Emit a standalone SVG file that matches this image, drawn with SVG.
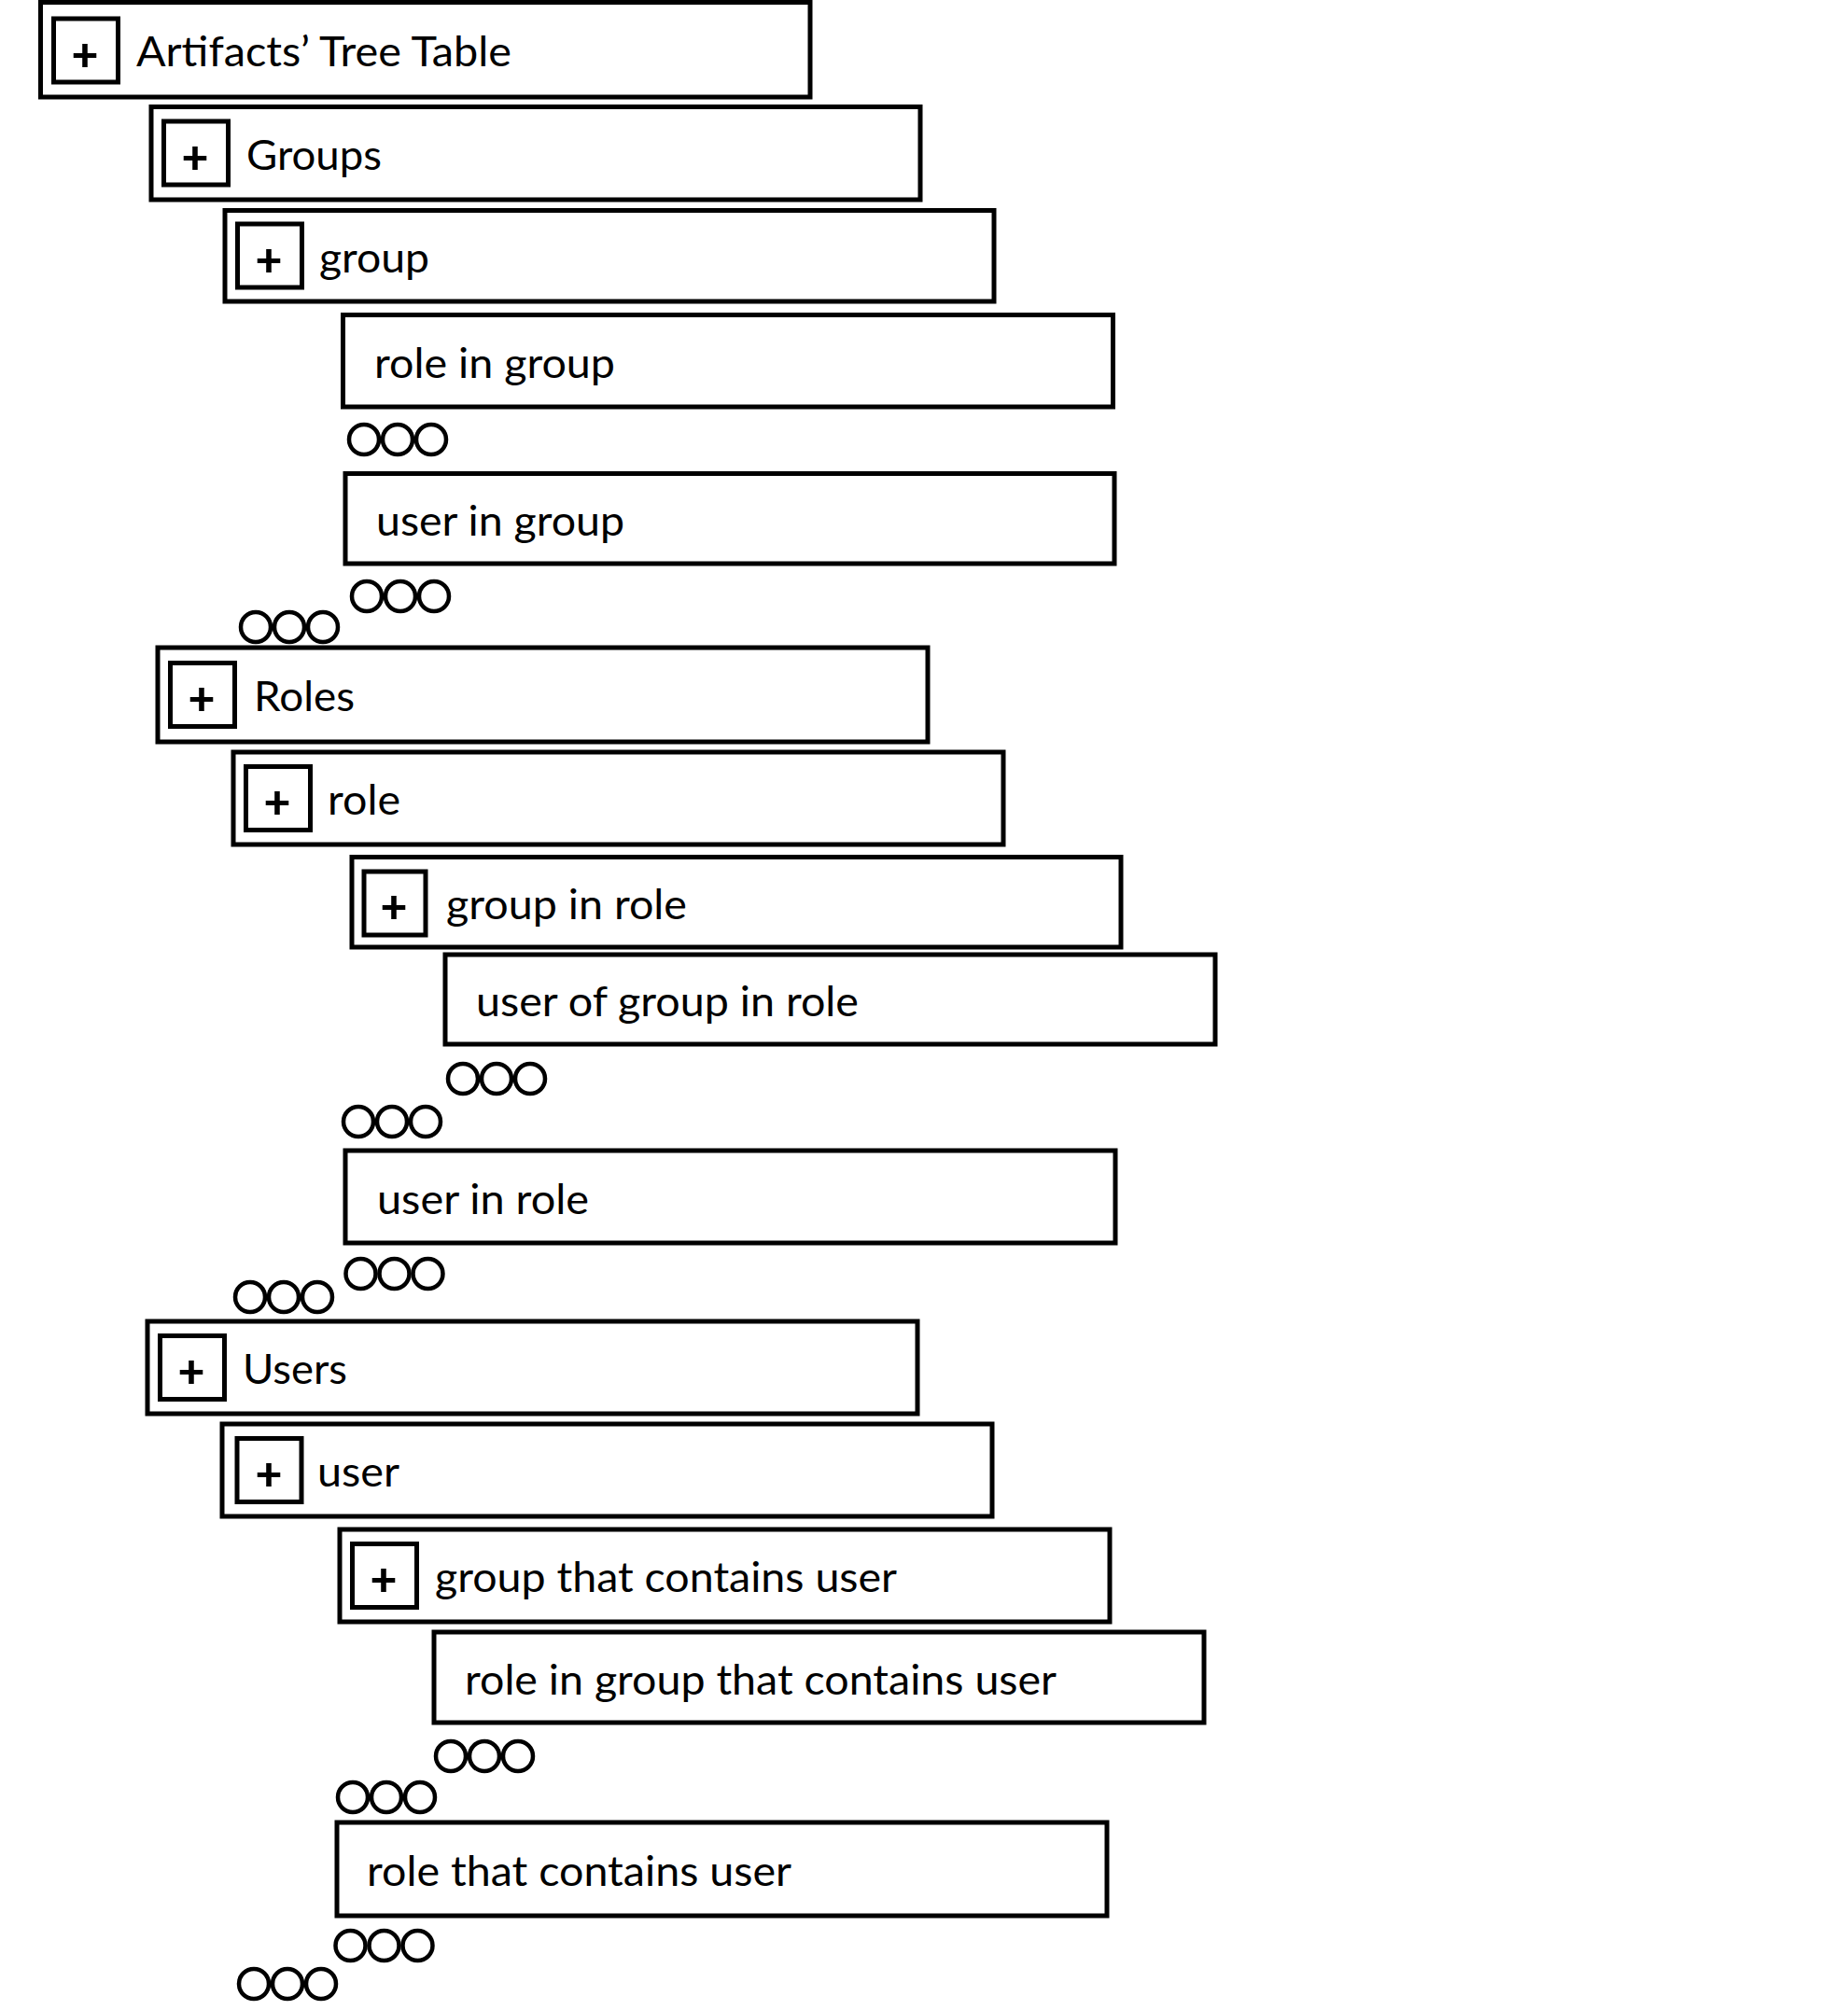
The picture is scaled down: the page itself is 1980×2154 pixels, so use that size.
<svg xmlns="http://www.w3.org/2000/svg" xmlns:xlink="http://www.w3.org/1999/xlink" width="1980" height="2154" viewBox="0 0 1980 2154">
<style>
.box{fill:#fff;stroke:#000;stroke-width:5}
.pbox{fill:none;stroke:#000;stroke-width:5}
.lbl{font-family:Lato,"Open Sans","Liberation Sans",sans-serif;font-size:45px;fill:#000}
.plus{font-family:Lato,"Liberation Sans",sans-serif;font-size:50px;font-weight:900;fill:#000;text-anchor:middle}
.dot{fill:none;stroke:#000;stroke-width:4.5}
</style>
<defs>
<g id="dots">
<circle class="dot" cx="18" cy="0" r="16"/>
<circle class="dot" cx="54" cy="0" r="16"/>
<circle class="dot" cx="90" cy="0" r="16"/>
</g>
</defs>
<rect width="1980" height="2154" fill="#fff"/>
<g id="connectors"></g>

<g id="artifacts-tree-table">
<rect class="box" x="43.5" y="2.5" width="824.5" height="101.5"/>
<rect class="pbox" x="57.5" y="20" width="69" height="68"/>
<text class="plus" x="91" y="76">+</text>
<text class="lbl" x="146" y="71" textLength="402" lengthAdjust="spacingAndGlyphs">Artifacts’ Tree Table</text>
</g>

<g id="groups">
<rect class="box" x="162" y="114.5" width="824" height="99.5"/>
<rect class="pbox" x="175.5" y="130" width="69" height="68"/>
<text class="plus" x="209" y="186">+</text>
<text class="lbl" x="264" y="182" textLength="145" lengthAdjust="spacingAndGlyphs">Groups</text>
</g>

<g id="group">
<rect class="box" x="241" y="225.5" width="824" height="97.5"/>
<rect class="pbox" x="254.5" y="240" width="69" height="68"/>
<text class="plus" x="288" y="296">+</text>
<text class="lbl" x="342" y="292" textLength="118" lengthAdjust="spacingAndGlyphs">group</text>
</g>

<g id="role-in-group">
<rect class="box" x="367.5" y="337.5" width="825" height="98.5"/>
<text class="lbl" x="401" y="405" textLength="258" lengthAdjust="spacingAndGlyphs">role in group</text>
</g>
<g id="more-role-in-group"><use xlink:href="#dots" href="#dots" x="372" y="471"/></g>

<g id="user-in-group">
<rect class="box" x="370" y="507.5" width="824" height="96.5"/>
<text class="lbl" x="403" y="574" textLength="266" lengthAdjust="spacingAndGlyphs">user in group</text>
</g>
<g id="more-user-in-group"><use xlink:href="#dots" href="#dots" x="375" y="639"/></g>
<g id="more-group"><use xlink:href="#dots" href="#dots" x="256" y="672"/></g>

<g id="roles">
<rect class="box" x="169" y="694" width="825" height="101"/>
<rect class="pbox" x="182.5" y="710.5" width="69" height="68"/>
<text class="plus" x="216" y="766">+</text>
<text class="lbl" x="272" y="762" textLength="108" lengthAdjust="spacingAndGlyphs">Roles</text>
</g>

<g id="role">
<rect class="box" x="250" y="806" width="825" height="99"/>
<rect class="pbox" x="263.5" y="821.5" width="69" height="68"/>
<text class="plus" x="297" y="877">+</text>
<text class="lbl" x="351" y="873" textLength="78" lengthAdjust="spacingAndGlyphs">role</text>
</g>

<g id="group-in-role">
<rect class="box" x="377" y="918.5" width="824" height="96.5"/>
<rect class="pbox" x="390" y="934" width="66" height="68"/>
<text class="plus" x="422" y="989">+</text>
<text class="lbl" x="478" y="985" textLength="258" lengthAdjust="spacingAndGlyphs">group in role</text>
</g>

<g id="user-of-group-in-role">
<rect class="box" x="477" y="1023" width="825" height="96"/>
<text class="lbl" x="510" y="1089" textLength="410" lengthAdjust="spacingAndGlyphs">user of group in role</text>
</g>
<g id="more-user-of-group-in-role"><use xlink:href="#dots" href="#dots" x="478" y="1156"/></g>
<g id="more-group-in-role"><use xlink:href="#dots" href="#dots" x="366" y="1202"/></g>

<g id="user-in-role">
<rect class="box" x="370" y="1233" width="825" height="99"/>
<text class="lbl" x="404" y="1301" textLength="227" lengthAdjust="spacingAndGlyphs">user in role</text>
</g>
<g id="more-user-in-role"><use xlink:href="#dots" href="#dots" x="368.5" y="1365"/></g>
<g id="more-role"><use xlink:href="#dots" href="#dots" x="250" y="1390"/></g>

<g id="users">
<rect class="box" x="158" y="1416" width="825" height="99"/>
<rect class="pbox" x="171.5" y="1431.5" width="69" height="68"/>
<text class="plus" x="205" y="1487">+</text>
<text class="lbl" x="260" y="1483" textLength="112" lengthAdjust="spacingAndGlyphs">Users</text>
</g>

<g id="user">
<rect class="box" x="238" y="1526" width="825" height="99"/>
<rect class="pbox" x="254" y="1541.5" width="69" height="68"/>
<text class="plus" x="288" y="1597">+</text>
<text class="lbl" x="340" y="1593" textLength="88" lengthAdjust="spacingAndGlyphs">user</text>
</g>

<g id="group-that-contains-user">
<rect class="box" x="364" y="1639" width="825" height="99"/>
<rect class="pbox" x="377.5" y="1654.5" width="69" height="68"/>
<text class="plus" x="411" y="1710">+</text>
<text class="lbl" x="466" y="1706" textLength="495" lengthAdjust="spacingAndGlyphs">group that contains user</text>
</g>

<g id="role-in-group-that-contains-user">
<rect class="box" x="465" y="1749" width="825" height="97"/>
<text class="lbl" x="498" y="1816" textLength="634" lengthAdjust="spacingAndGlyphs">role in group that contains user</text>
</g>
<g id="more-role-in-group-that-contains-user"><use xlink:href="#dots" href="#dots" x="465" y="1882"/></g>
<g id="more-group-that-contains-user"><use xlink:href="#dots" href="#dots" x="360" y="1926"/></g>

<g id="role-that-contains-user">
<rect class="box" x="361" y="1953" width="825" height="100"/>
<text class="lbl" x="393" y="2021" textLength="455" lengthAdjust="spacingAndGlyphs">role that contains user</text>
</g>
<g id="more-role-that-contains-user"><use xlink:href="#dots" href="#dots" x="357.5" y="2085"/></g>
<g id="more-user"><use xlink:href="#dots" href="#dots" x="254" y="2126"/></g>
</svg>
